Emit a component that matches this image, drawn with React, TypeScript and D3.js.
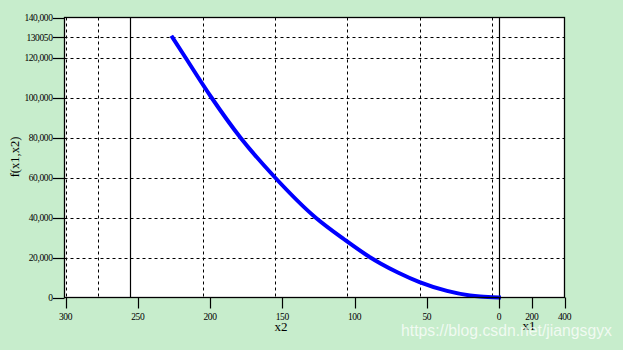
import React from "react";
import * as d3 from "d3";

// Curve samples: x2 value and f(x1,x2)
const curveX2 = [226, 217, 199, 179, 155, 127, 107, 89, 82, 70, 55, 36, 20, 13, 0];
const curveF = [130050, 120000, 100000, 80000, 60000, 40000, 29000, 20000, 17000, 12500, 7700, 3300, 1000, 450, 0];

const yTicks = [0, 20000, 40000, 60000, 80000, 100000, 120000, 130050, 140000];
const yTickLabels = ["0", "20,000", "40,000", "60,000", "80,000", "100,000", "120,000", "130050", "140,000"];
const yGrid = [20000, 40000, 60000, 80000, 100000, 120000, 130050];

const x2Ticks = [300, 250, 200, 150, 100, 50, 0];
const x1Ticks = [200, 400];
const x2GridDashed = [300, 277.5, 205, 155, 105, 55, 5];
const x2GridSolid = [255.5, 0];

const W = 623, H = 350;
const left = 64.5, right = 564.5, top = 17.5, bottom = 297.5;
const zeroX = 499;

export default function App() {
  const x2 = d3.scaleLinear().domain([300, 0]).range([65.5, zeroX]);
  const x1 = d3.scaleLinear().domain([0, 400]).range([zeroX, right]);
  const y = d3.scaleLinear().domain([0, 140000]).range([bottom, top]);

  const pts: [number, number][] = curveX2.map((v, i) => [x2(v), y(curveF[i])]);
  const line = d3.line().curve(d3.curveMonotoneX)(pts) || "";

  const serif = "'Liberation Serif', 'DejaVu Serif', serif";
  const r = (v: number) => Math.round(v) + 0.5;

  return (
    <svg width={W} height={H} style={{ position: "absolute", left: 0, top: 0, display: "block" }}>
      <rect x={0} y={0} width={W} height={H} fill="#c7edcc" />
      <rect x={left} y={top} width={right - left} height={bottom - top} fill="#ffffff" />
      {/* horizontal grid */}
      {yGrid.map((v) => (
        <line key={"hg" + v} x1={left} x2={right} y1={r(y(v))} y2={r(y(v))} stroke="#000" strokeWidth={1} strokeDasharray="3,3" />
      ))}
      {/* vertical grid */}
      {x2GridDashed.map((v) => (
        <line key={"vg" + v} x1={r(x2(v))} x2={r(x2(v))} y1={top} y2={bottom} stroke="#000" strokeWidth={1} strokeDasharray="3,3" />
      ))}
      {x2GridSolid.map((v) => (
        <line key={"vs" + v} x1={r(x2(v))} x2={r(x2(v))} y1={top} y2={bottom} stroke="#000" strokeWidth={1.2} />
      ))}
      {/* curve */}
      <path d={line} fill="none" stroke="#0000ff" strokeWidth={4} strokeLinecap="square" />
      {/* border */}
      <rect x={left} y={top} width={right - left} height={bottom - top} fill="none" stroke="#000" strokeWidth={1.3} />
      {/* y ticks */}
      {yTicks.map((v, i) => (
        <g key={"yt" + v}>
          <line x1={53} x2={left} y1={r(y(v))} y2={r(y(v))} stroke="#000" strokeWidth={1.2} />
          <text x={52.5} y={y(v)} dy="0.35em" textAnchor="end" fontFamily={serif} fontSize={9.5} letterSpacing={-0.4} fill="#000">
            {yTickLabels[i]}
          </text>
        </g>
      ))}
      {/* x2 ticks */}
      {x2Ticks.map((v) => (
        <g key={"x2t" + v}>
          <line x1={r(x2(v))} x2={r(x2(v))} y1={bottom} y2={bottom + 11} stroke="#000" strokeWidth={1.2} />
          <text x={x2(v)} y={320} textAnchor="middle" fontFamily={serif} fontSize={9.5} letterSpacing={-0.4} fill="#000">
            {v}
          </text>
        </g>
      ))}
      {x1Ticks.map((v) => (
        <g key={"x1t" + v}>
          <line x1={r(x1(v))} x2={r(x1(v))} y1={bottom} y2={bottom + 11} stroke="#000" strokeWidth={1.2} />
          <text x={x1(v)} y={320} textAnchor="middle" fontFamily={serif} fontSize={9.5} letterSpacing={-0.4} fill="#000">
            {v}
          </text>
        </g>
      ))}
      {/* axis titles */}
      <text x={281} y={331} textAnchor="middle" fontFamily={serif} fontSize={13} fill="#000">x2</text>
      <text x={529} y={330} textAnchor="middle" fontFamily={serif} fontSize={13} fill="#000">x1</text>
      <text transform="translate(19,157) rotate(-90)" textAnchor="middle" fontFamily={serif} fontSize={12.5} fill="#000">f(x1,x2)</text>
      {/* watermark */}
      <text x={401} y={336} fontFamily="'Liberation Sans', Arial, sans-serif" fontSize={16} fill="#ffffff" fillOpacity={0.75} textLength={211} lengthAdjust="spacingAndGlyphs">
        https://blog.csdn.net/jiangsgyx
      </text>
    </svg>
  );
}
